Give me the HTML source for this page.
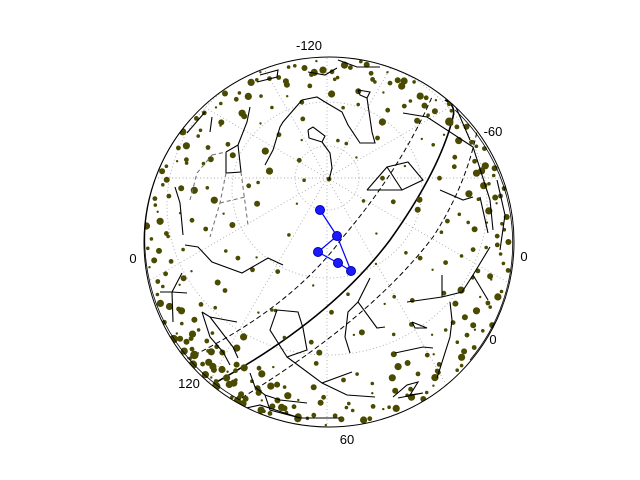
<!DOCTYPE html>
<html><head><meta charset="utf-8"><style>
html,body{margin:0;padding:0;background:#fff;}
svg{display:block;font-family:"Liberation Sans",sans-serif;}
</style></head><body>
<svg id="chart" width="640" height="480" viewBox="0 0 640 480" xmlns="http://www.w3.org/2000/svg">
<defs><clipPath id="disk"><circle cx="329" cy="242" r="185"/></clipPath></defs>
<g id="grid" clip-path="url(#disk)" fill="none" stroke="#aaa" stroke-width="0.9" stroke-dasharray="1,2.5"></g>
<g id="curves" clip-path="url(#disk)" fill="none" stroke="#000"></g>
<g id="stars" clip-path="url(#disk)" fill="#4a4a00"></g>
<g id="lines" clip-path="url(#disk)" fill="none" stroke="#000" stroke-width="1.1"></g>
<g id="blue"></g>
<circle cx="329" cy="242" r="185" fill="none" stroke="#000" stroke-width="1"/>
<path d="M 190,120 A 182 182 0 0 0 240,400" fill="none" stroke="#000" stroke-width="0.8"/>
<path d="M 455,110 A 182 182 0 0 1 470,360" fill="none" stroke="#000" stroke-width="0.8"/>
<g id="labels" font-size="13" fill="#000">
<text x="309" y="50" text-anchor="middle">-120</text>
<text x="493" y="136" text-anchor="middle">-60</text>
<text x="133" y="263" text-anchor="middle">0</text>
<text x="524" y="261" text-anchor="middle">0</text>
<text x="493" y="344" text-anchor="middle">0</text>
<text x="189" y="388" text-anchor="middle">120</text>
<text x="347" y="444" text-anchor="middle">60</text>
</g>
</svg>
<script>
// star data: angle (deg, screen), radial fraction, size
const starAngle=[0,4,9,13,18,22,27,31,36,41,45,50,54,59,63,68,72,77,82,86,91,95,100,104,109,113,118,122,127,131,136,140,145,149,154,158,163,167,172,177,181,185,190,194,199,203,208,212,217,221,226,230,235,239,244,248,253,257,262,266,271,275,280,284,289,293,298,302,307,311,316,320,325,329,334,338,343,347,352,356,
2,11,20,29,38,47,56,65,74,83,92,101,110,119,128,137,146,155,164,173,182,191,200,209,218,227,236,245,254,263,272,281,290,299,308,317,326,335,344,353,
6,24,42,60,78,96,114,132,150,168,186,204,222,240,258,276,294,312,330,348,
15,35,55,75,95,115,135,155,175,195,215,235,255,275,295,315,335,355,
8,48,88,128,168,208,248,288,328,
25,70,110,150,190,230,270,310,350,
100,120,140,105,125,145,115,135,255,265,285,295,305,315,325,335,345,340,
30,50,62,33,57,45,20,10,355,350,
160,170,200,215,230,245,
120,128,133,138,143,148,112,118,
1,7,12,16,21,25,30,34,39,43,48,52,57,61,66,70,75,79,84,88,93,97,102,106,111,115,120,124,129,133,138,142,147,151,156,160,165,169,174,178,183,187,192,196,201,205,210,214,219,223,228,232,237,241,246,250,255,259,264,268,273,277,282,286,291,295,300,304,309,313,318,322,327,331,336,340,345,349,354,358,
3,14,26,37,49,61,73,84,96,107,119,131,142,154,166,177,189,201,212,224,236,247,259,271,282,294,306,317,329,341,352,
10,40,70,100,130,160,190,220,250,280,310,340,
105,108,112,116,124,126,130,134,137,141,146,150,124,132,140,109,117,127];
const starRadius=[0.97,0.93,0.98,0.9,0.96,0.94,0.99,0.92,0.97,0.95,0.98,0.91,0.96,0.99,0.93,0.97,0.95,0.98,0.92,0.96,0.99,0.94,0.97,0.95,0.98,0.93,0.96,0.99,0.92,0.97,0.95,0.98,0.94,0.96,0.99,0.93,0.97,0.95,0.98,0.92,0.96,0.99,0.94,0.97,0.95,0.98,0.93,0.96,0.99,0.92,0.97,0.95,0.98,0.94,0.96,0.99,0.93,0.97,0.95,0.98,0.92,0.96,0.99,0.94,0.97,0.95,0.98,0.93,0.96,0.99,0.92,0.97,0.95,0.98,0.94,0.96,0.99,0.93,0.97,0.95,
0.85,0.82,0.87,0.84,0.88,0.83,0.86,0.81,0.85,0.88,0.84,0.87,0.82,0.86,0.89,0.83,0.85,0.88,0.84,0.86,0.87,0.82,0.85,0.88,0.83,0.86,0.84,0.87,0.82,0.85,0.88,0.83,0.86,0.84,0.87,0.85,0.82,0.88,0.84,0.86,
0.72,0.68,0.75,0.7,0.73,0.66,0.74,0.69,0.71,0.76,0.67,0.72,0.7,0.74,0.68,0.73,0.71,0.75,0.69,0.72,
0.58,0.55,0.61,0.52,0.6,0.57,0.54,0.62,0.56,0.59,0.53,0.6,0.57,0.55,0.62,0.58,0.54,0.61,
0.42,0.45,0.38,0.47,0.4,0.44,0.36,0.48,0.41,
0.28,0.3,0.25,0.32,0.22,0.27,0.34,0.29,0.26,
0.96,0.97,0.95,0.93,0.94,0.91,0.9,0.92,0.9,0.92,0.91,0.93,0.9,0.92,0.94,0.91,0.93,0.89,
0.9,0.92,0.95,0.8,0.78,0.63,0.76,0.64,0.79,0.65,
0.64,0.5,0.66,0.78,0.5,0.64,
0.99,0.99,0.98,0.99,0.98,0.99,0.98,0.99,
0.91,0.95,0.89,0.97,0.92,0.88,0.96,0.9,0.94,0.98,0.89,0.93,0.97,0.91,0.88,0.95,0.92,0.98,0.9,0.94,0.87,0.96,0.91,0.93,0.98,0.89,0.95,0.9,0.97,0.92,0.88,0.94,0.96,0.91,0.89,0.97,0.93,0.9,0.95,0.98,0.88,0.92,0.96,0.9,0.94,0.97,0.89,0.93,0.91,0.98,0.87,0.95,0.92,0.9,0.96,0.94,0.88,0.97,0.91,0.93,0.89,0.95,0.98,0.9,0.92,0.96,0.88,0.94,0.91,0.97,0.93,0.89,0.95,0.9,0.98,0.92,0.96,0.88,0.94,0.91,
0.78,0.8,0.76,0.79,0.81,0.77,0.8,0.75,0.79,0.82,0.78,0.76,0.8,0.77,0.81,0.79,0.75,0.78,0.8,0.76,0.82,0.79,0.77,0.8,0.76,0.78,0.81,0.77,0.79,0.8,0.76,
0.5,0.46,0.52,0.55,0.48,0.44,0.53,0.5,0.47,0.54,0.45,0.51,
0.86,0.9,0.84,0.88,0.82,0.86,0.9,0.83,0.87,0.85,0.89,0.84,0.92,0.93,0.95,0.94,0.8,0.83];
const starSize=[2.5,1.5,2,1,3,1.5,2.5,1,2,3,1.5,2,1,2.5,1.5,3,1,2,1.5,2.5,1,2,3,1.5,2,1,2.5,1.5,3,1,2,1.5,2.5,1,2,3,1.5,2,1,2.5,1.5,3,1,2,1.5,2.5,1,2,3,1.5,2,1,2.5,1.5,3,1,2,1.5,2.5,1,2,3,1.5,2,1,2.5,1.5,3,1,2,1.5,2.5,1,2,3,1.5,2,1,2.5,1.5,
1.5,2,1,2.5,1.5,1,2,3,1,1.5,2,1,2.5,1.5,1,2,1.5,3,1,2,1.5,1,2.5,1.5,2,1,3,1.5,1,2,1.5,2.5,1,2,1.5,1,2,3,1.5,1,
1.5,2,1,2.5,1.5,2,1,3,1.5,1,2,1.5,2.5,1,2,1.5,3,1,2,1.5,
1,2,1.5,1,2.5,1.5,1,2,1.5,1,2,3,1,1.5,2,1,2.5,1.5,
1.5,1,2,1.5,1,2.5,1.5,1,2,
1,1.5,1,2,1.5,1,2,1.5,1,
3,2,3.5,2.5,3,2,2.5,3,2.5,3,2,3,2.5,3.5,2,3,2.5,3,
2.5,2,3,2,2.5,2,3,2,2.5,2,
2.5,2,3,2.5,3,2,
3,3.5,3,3.5,3,3.5,3,3,
2,1.5,2.5,1.5,2,3,1.5,2,2.5,1.5,2,3,1.5,2,2.5,1.5,2,3,1.5,2,2.5,1.5,2,3,1.5,2,2.5,1.5,2,3,1.5,2,2.5,1.5,2,3,1.5,2,2.5,1.5,2,3,1.5,2,2.5,1.5,2,3,1.5,2,2.5,1.5,2,3,1.5,2,2.5,1.5,2,3,1.5,2,2.5,1.5,2,3,1.5,2,2.5,1.5,2,3,1.5,2,2.5,1.5,2,3,1.5,2,
2,1.5,2.5,1.5,2,3,1.5,2,2.5,1.5,2,3,1.5,2,2.5,1.5,2,3,1.5,2,2.5,1.5,2,3,1.5,2,2.5,1.5,2,3,1.5,
2,1.5,2.5,2,1.5,2,2.5,1.5,2,1.5,2,2.5,
3,2.5,3,2.5,3,2,3,2.5,3,2,3,2.5,3,2.5,3,2.5,3,2.5];
const CX=329,CY=242,R=185;
function sx(a,r){return CX+R*r*Math.cos(a*Math.PI/180);}
function sy(a,r){return CY+R*r*Math.sin(a*Math.PI/180);}
const NS="http://www.w3.org/2000/svg";
const sg=document.getElementById('stars');
for(let i=0;i<starAngle.length;i++){
  const c=document.createElementNS(NS,'circle');
  c.setAttribute('cx',sx(starAngle[i],starRadius[i]).toFixed(1));
  c.setAttribute('cy',sy(starAngle[i],starRadius[i]).toFixed(1));
  c.setAttribute('r',(starSize[i]||1.5)*1.2);
  
  
  sg.appendChild(c);
}
// constellation polylines in screen-space sky coordinates
const constellations=[
"302,100 317,97 325,102 342,112 348,125 360,143 375,143 372,132 367,98",
"302,100 283,122 280,127 273,150 265,165",
"308,130 313,127 325,136 322,142 309,138 308,130",
"322,142 330,153 332,168 329,180",
"367,190 387,167 408,162 423,180 402,190 367,190",
"387,167 402,190",
"226,152 238,145 241,172 226,173 226,152",
"238,145 247,122 250,107",
"403,113 427,117 473,147 490,200 493,230",
"440,190 463,200 473,197",
"480,197 488,233",
"358,90 370,92 367,98 360,95 358,90",
"257,82 277,77 278,70 260,75",
"308,72 325,75 337,68",
"338,60 357,67 380,67",
"187,133 205,112",
"210,132 212,117",
"175,187 180,203 183,235",
"185,245 198,247 212,262 242,273 268,258 283,265",
"160,292 172,292 187,293",
"172,292 182,273",
"172,292 173,322",
"202,312 210,317 237,322",
"202,312 210,337 223,352 230,365",
"210,317 233,347 238,358",
"277,310 298,312 303,328 307,350 287,357 270,330 277,310",
"287,357 322,383 347,395 375,397",
"322,383 352,372",
"250,373 255,387 265,395 280,400 307,403",
"265,395 270,410 300,418",
"370,278 358,302 377,328 385,327",
"358,302 348,312 345,337 350,353",
"407,302 442,297 462,292 473,275 488,300",
"442,297 442,275",
"412,322 415,328 427,328 412,322",
"395,353 423,347 433,348",
"450,302 452,320 450,337 437,378",
"393,397 407,385 418,382 410,395 423,393 398,398",
"473,275 490,247",
"497,180 505,215 500,250",
"215,415 260,405 300,418 340,418",
"440,80 455,105 470,140"];
const lg=document.getElementById('lines');
constellations.forEach(p=>{
  const l=document.createElementNS(NS,'polyline');
  l.setAttribute('points',p);
  
  
  lg.appendChild(l);
});
const dashedCons=["212,155 226,152","226,173 220,203 210,237","241,172 248,225","190,200 197,173 212,155","220,203 245,197"];
dashedCons.forEach(p=>{
  const l=document.createElementNS(NS,'polyline');
  l.setAttribute('points',p);
  l.setAttribute('stroke','#777');
  l.setAttribute('stroke-dasharray','4,3');
  
  
  lg.appendChild(l);
});
// grid
const gg=document.getElementById('grid');
const gridCircles=[[327,178,32,32],[327,190,95,88],[327,205,160,150],[329,235,200,200]];
gridCircles.forEach(c=>{
  const e=document.createElementNS(NS,'ellipse');
  e.setAttribute('cx',c[0]);e.setAttribute('cy',c[1]);e.setAttribute('rx',c[2]);e.setAttribute('ry',c[3]);
  
  
  gg.appendChild(e);
});
const gridSpokes=[0,30,60,90,120,150,180,210,240,270,300,330];
gridSpokes.forEach(a=>{
  const l=document.createElementNS(NS,'line');
  l.setAttribute('x1',327);l.setAttribute('y1',178);
  l.setAttribute('x2',(327+320*Math.cos(a*Math.PI/180)).toFixed(1));
  l.setAttribute('y2',(178+320*Math.sin(a*Math.PI/180)).toFixed(1));
  
  
  gg.appendChild(l);
});
// curves
const cg=document.getElementById('curves');
const curveDefs=[["M 213,384 Q 330,320 390,240 Q 440,170 453,117 Q 456,105 445,100","1.6",""],
["M 180,362 Q 290,310 343,237 Q 400,170 432,97","1","5,3"],
["M 235,402 Q 370,320 433,237 Q 470,180 480,115","1","5,3"]];
curveDefs.forEach(d=>{
  const p=document.createElementNS(NS,'path');
  p.setAttribute('d',d[0]);p.setAttribute('stroke-width',d[1]);
  if(d[2])p.setAttribute('stroke-dasharray',d[2]);
  
  
  cg.appendChild(p);
});
// highlighted constellation
const blueX=[320,337,318,338,351];
const blueY=[210,236,252,263,271];
const blueEdges=[[0,1],[1,2],[2,3],[3,4],[4,1]];
const bg=document.getElementById('blue');
blueEdges.forEach(e=>{
  const l=document.createElementNS(NS,'line');
  l.setAttribute('x1',blueX[e[0]]);l.setAttribute('y1',blueY[e[0]]);
  l.setAttribute('x2',blueX[e[1]]);l.setAttribute('y2',blueY[e[1]]);
  l.setAttribute('stroke','#00f');l.setAttribute('stroke-width','1.2');
  
  
  bg.appendChild(l);
});
blueX.forEach((x,i)=>{
  const c=document.createElementNS(NS,'circle');
  c.setAttribute('cx',x);c.setAttribute('cy',blueY[i]);c.setAttribute('r',4.5);
  c.setAttribute('fill','#1a1aff');c.setAttribute('stroke','#0000aa');
  
  
  bg.appendChild(c);
});
</script>
</body></html>
